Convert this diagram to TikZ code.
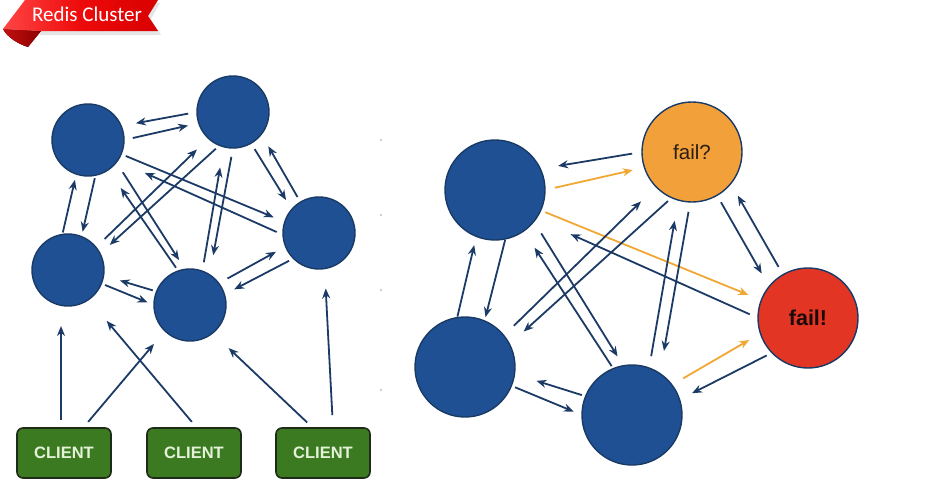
\documentclass[tikz,border=0pt]{standalone}
\usepackage{fontspec}
\setmainfont{Liberation Sans}
\newfontfamily\carl{Carlito}
\usetikzlibrary{arrows.meta}
\definecolor{nodeblue}{HTML}{1F5093}
\definecolor{nodeedge}{HTML}{1A3A66}
\definecolor{arrowblue}{HTML}{1C3A66}
\definecolor{failorange}{HTML}{F2A03A}
\definecolor{failred}{HTML}{E23524}
\definecolor{arroworange}{HTML}{F0A733}
\definecolor{clientgreen}{HTML}{3C7A22}
\definecolor{clientedge}{HTML}{1E2B18}
\definecolor{clienttext}{HTML}{E4F2D8}
\definecolor{ribbonlight}{HTML}{FF4545}
\definecolor{ribbonmid}{HTML}{EE0A0A}
\definecolor{ribbondark}{HTML}{D80000}
\definecolor{folddark}{HTML}{8E0000}
\definecolor{foldlight}{HTML}{C41010}
\begin{document}
\begin{tikzpicture}[x=1pt,y=-1pt,
  smallnode/.style={circle,fill=nodeblue,draw=nodeedge,line width=1.4pt,minimum size=72pt,inner sep=0pt,outer sep=0pt},
  bignode/.style={circle,fill=nodeblue,draw=nodeedge,line width=1.4pt,minimum size=100pt,inner sep=0pt,outer sep=0pt},
  client/.style={rectangle,rounded corners=6pt,fill=clientgreen,draw=clientedge,line width=1.6pt,minimum width=94pt,minimum height=50pt,inner sep=0pt,outer sep=0pt,font=\bfseries\fontsize{16.5}{18}\selectfont,text=clienttext},
  arr/.style={draw=arrowblue,color=arrowblue,line width=1.8pt,-{Stealth[length=10pt,width=8pt]}},
  oarr/.style={arr,draw=arroworange,color=arroworange},
  speck/.style={fill=black!25}
]
\useasboundingbox (0,0) rectangle (937,493);

% ribbon banner
\fill[black!10] (28,3) -- (160,3) -- (151,19) -- (161,35) -- (40,35) -- cycle;
\fill[left color=foldlight,right color=folddark] (3,29) -- (41,31) -- (28,47) .. controls (18,44) and (7,37) .. cycle;
\shade[left color=ribbonlight,right color=ribbondark,middle color=ribbonmid] (25,0) -- (158,0) -- (148,16) -- (158,31) -- (41,31) -- (3,29) -- cycle;
\node[text=white,font=\carl\fontsize{21}{23}\selectfont,inner sep=0pt,anchor=base] (title) at (87,21.5) {Redis Cluster};

% left cluster
\node[smallnode] (A) at (88,140) {};
\node[smallnode] (B) at (233,112) {};
\node[smallnode] (C) at (68,270) {};
\node[smallnode] (D) at (190,305) {};
\node[smallnode] (E) at (319,233) {};

\node[client] (K1) at (64,453) {CLIENT};
\node[client] (K2) at (194,453) {CLIENT};
\node[client] (K3) at (323,453) {CLIENT};

\draw[arr,shorten <=9pt,shorten >=15pt] (B.180) -- (A.23);
\draw[arr,shorten <=9pt,shorten >=11pt] (A.0) -- (B.198);
\draw[arr,shorten <=3pt,shorten >=5pt] (A.-78) -- (C.68);
\draw[arr,shorten <=2pt,shorten >=6pt] (C.99) -- (A.-109);
\draw[arr,shorten <=5pt,shorten >=12pt] (A.-23) -- (E.162);
\draw[arr,shorten <=7pt,shorten >=30pt] (E.183) -- (A.-35);
\draw[arr,shorten <=12pt,shorten >=11pt] (A.-38) -- (D.98);
\draw[arr,shorten <=4pt,shorten >=22pt] (D.109) -- (A.-56);
\draw[arr,shorten <=5pt,shorten >=13pt] (B.-112) -- (C.27);
\draw[arr,shorten <=12pt,shorten >=16pt] (C.39) -- (B.-133);
\draw[arr,shorten <=9pt,shorten >=20pt] (B.-90) -- (D.57);
\draw[arr,shorten <=9pt,shorten >=21pt] (D.70) -- (B.-105);
\draw[arr,shorten <=7pt,shorten >=11pt] (B.-60) -- (E.139);
\draw[arr,shorten <=6pt,shorten >=14pt] (E.121) -- (B.-38);
\draw[arr,shorten <=4pt,shorten >=7pt] (C.-22) -- (D.180);
\draw[arr,shorten <=4pt,shorten >=17pt] (D.158) -- (C.-9);
\draw[arr,shorten <=10pt,shorten >=11pt] (D.37) -- (E.202);
\draw[arr,shorten <=5pt,shorten >=11pt] (E.225) -- (D.17);

\draw[arr,shorten <=8pt,shorten >=20pt] ([xshift=-3pt]K1.north) -- ([xshift=-3pt]K1.north |- C.south);
\draw[arr,shorten <=8pt,shorten >=17pt] ([xshift=19pt]K1.north) -- (D.-134);
\draw[arr,shorten <=8pt,shorten >=28pt] ([xshift=3pt]K2.north) -- (C.-55);
\draw[arr,shorten <=8pt,shorten >=22pt] ([xshift=-10pt]K3.north) -- (D.-51);
\draw[arr,shorten <=13pt,shorten >=20pt] ([xshift=10pt]K3.north) -- (E.-81);

% specks
\fill[speck] (381,140) circle (1.2pt);
\fill[speck] (381,215) circle (1.2pt);
\fill[speck] (381,290) circle (1.2pt);
\fill[speck] (381,390) circle (1.2pt);

% right cluster
\node[bignode] (P) at (495,190) {};
\node[bignode,fill=failorange] (Q) at (692,152) {\fontsize{20.5}{22}\selectfont\color[HTML]{2B1D12}fail?};
\node[bignode,fill=failred] (R) at (808,318) {\bfseries\fontsize{21.5}{23}\selectfont\color[HTML]{1A0A0A}fail!};
\node[bignode] (S) at (465,367) {};
\node[bignode] (T) at (632,415) {};

\draw[arr,shorten <=10pt,shorten >=18pt] (Q.180) -- (P.25);
\draw[oarr,shorten <=10pt,shorten >=12pt] (P.0) -- (Q.198);
\draw[oarr,shorten <=5pt,shorten >=14pt] (P.-24) -- (R.159);
\draw[arr,shorten <=9pt,shorten >=38pt] (R.180) -- (P.-35);
\draw[arr,shorten <=1pt,shorten >=4pt] (P.-78) -- (S.67);
\draw[arr,shorten <=1pt,shorten >=9pt] (S.99) -- (P.-112);
\draw[arr,shorten <=5pt,shorten >=19pt] (Q.-114) -- (S.27);
\draw[arr,shorten <=14pt,shorten >=21pt] (S.39) -- (Q.-136);
\draw[arr,shorten <=14pt,shorten >=11pt] (P.-39) -- (T.100);
\draw[arr,shorten <=3pt,shorten >=20pt] (T.112) -- (P.-55);
\draw[arr,shorten <=10pt,shorten >=23pt] (Q.-92) -- (T.56);
\draw[arr,shorten <=12pt,shorten >=21pt] (T.70) -- (Q.-106);
\draw[arr,shorten <=8pt,shorten >=15pt] (Q.-60) -- (R.141);
\draw[arr,shorten <=9pt,shorten >=14pt] (R.120) -- (Q.-39);
\draw[oarr,shorten <=13pt,shorten >=13pt] (T.37) -- (R.198);
\draw[arr,shorten <=6pt,shorten >=14pt] (R.224) -- (T.18);
\draw[arr,shorten <=4pt,shorten >=9pt] (S.-22) -- (T.180);
\draw[arr,shorten <=4pt,shorten >=23pt] (T.158) -- (S.-8);
\end{tikzpicture}
\end{document}
